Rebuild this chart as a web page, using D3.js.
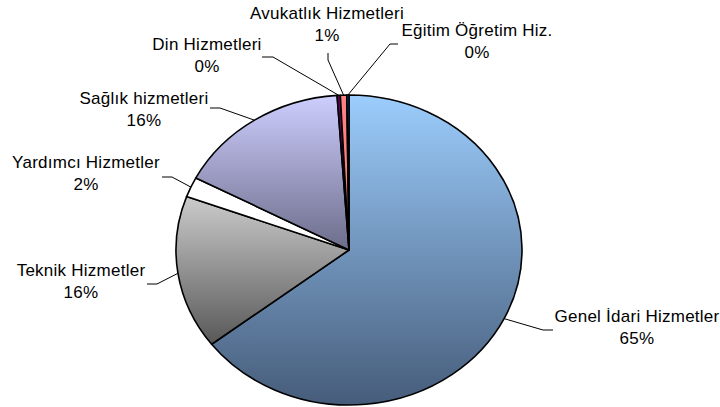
<!DOCTYPE html>
<html><head><meta charset="utf-8">
<script src="https://cdn.jsdelivr.net/npm/d3@7"></script>
<style>body{margin:0;background:#fff}svg{display:block}</style>
</head><body>
<svg id="chart" width="720" height="407"></svg>
<script>
const categories = ["Genel İdari Hizmetler","Teknik Hizmetler","Yardımcı Hizmetler","Sağlık hizmetleri","Din Hizmetleri","Avukatlık Hizmetleri","Eğitim Öğretim Hiz."];
const values = [64.6, 16.0, 2.1, 16.2, 0.3, 0.6, 0.2];
const colorsTop = ["#9ccdfd","#cbcbcb","#ffffff","#ceceff","#660066","#ff8080","#0066cc"];
const colorsBottom = ["#465c7a","#585858","#ffffff","#6c6c8a","#660066","#ff8080","#0066cc"];
// label anchor (center of text) and leader elbow positions
const labelPos = [[637,322],[81,276],[86,168],[144,104],[207,50],[327,19],[477,36]];
const elbowPts = [[[553,330],[543,330]],[[147,284],[157,284]],[[162,177],[172,177]],[[210,108],[220,108]],[[262,57],[273,57]],[[328,53],[328,60]],[[398,44],[390,44]]];

const svg = d3.select("#chart");
const cx = 349, cy = 250, rx = 173, ry = 155;
const total = d3.sum(values);
const pie = d3.pie().sort(null).value(d => d)(values);
const arc = d3.arc().innerRadius(0).outerRadius(rx);

const defs = svg.append("defs");
categories.forEach((c,i) => {
  const g = defs.append("linearGradient").attr("id","g"+i)
    .attr("x1",0).attr("y1",0).attr("x2",0).attr("y2",1);
  g.append("stop").attr("offset","0%").attr("stop-color",colorsTop[i]);
  g.append("stop").attr("offset","100%").attr("stop-color",colorsBottom[i]);
});

const gp = svg.append("g").attr("transform",`translate(${cx},${cy}) scale(1,${ry/rx})`);
gp.selectAll("path").data(pie).join("path")
  .attr("d", arc)
  .attr("fill",(d,i)=>`url(#g${i})`)
  .attr("stroke","#000")
  .attr("stroke-width",1.6)
  .attr("vector-effect","non-scaling-stroke")
  .attr("stroke-linejoin","round");

// leader lines
pie.forEach((d,i) => {
  const a = (d.startAngle + d.endAngle)/2;
  const px = cx + rx*Math.sin(a), py = cy - ry*Math.cos(a);
  const pts = [elbowPts[i][0], elbowPts[i][1], [px,py]];
  svg.append("path").attr("d", d3.line()(pts))
    .attr("fill","none").attr("stroke","#000").attr("stroke-width",1);
});

// labels
const lbl = svg.append("g").attr("font-family","'Liberation Sans', Arial, sans-serif")
  .attr("font-size",17).attr("letter-spacing",0.25).attr("fill","#000").attr("text-anchor","middle");
categories.forEach((c,i) => {
  const t = lbl.append("text").attr("x",labelPos[i][0]).attr("y",labelPos[i][1]);
  t.append("tspan").attr("x",labelPos[i][0]).text(c);
  t.append("tspan").attr("x",labelPos[i][0]).attr("dy",22).text(Math.round(values[i]/total*100)+"%");
});
</script>
</body></html>
